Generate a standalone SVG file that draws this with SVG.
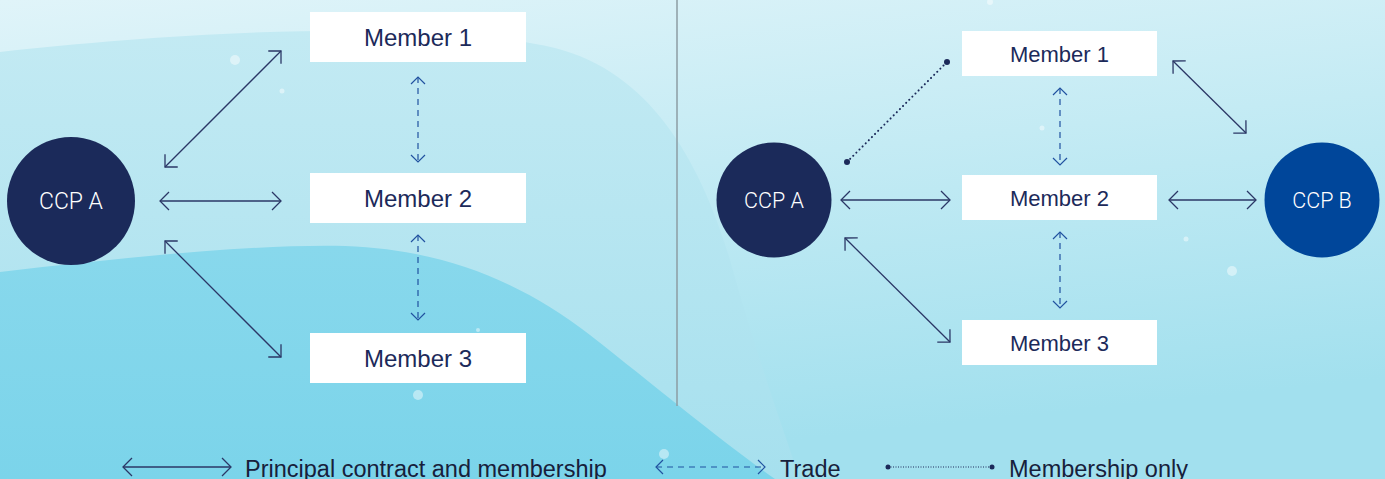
<svg xmlns="http://www.w3.org/2000/svg" width="1385" height="479" viewBox="0 0 1385 479">
  <defs>
    <linearGradient id="bgBase" x1="0" y1="0" x2="0.3" y2="1">
      <stop offset="0" stop-color="#e0f4f9"/>
      <stop offset="1" stop-color="#a2e0ee"/>
    </linearGradient>
    <linearGradient id="band" x1="0" y1="0" x2="0" y2="1">
      <stop offset="0" stop-color="#c3eaf3"/>
      <stop offset="1" stop-color="#a6e0ee"/>
    </linearGradient>
    <linearGradient id="wave" x1="0" y1="0" x2="0" y2="1">
      <stop offset="0" stop-color="#88d8ec"/>
      <stop offset="1" stop-color="#7bd4ea"/>
    </linearGradient>
    <marker id="ah" viewBox="0 0 11 20" refX="10" refY="10" markerWidth="11" markerHeight="20" markerUnits="userSpaceOnUse" orient="auto-start-reverse">
      <path d="M1,1 L10,10 L1,19" fill="none" stroke="#2b3766" stroke-width="1.3"/>
    </marker>
    <marker id="th" viewBox="0 0 9 16" refX="8" refY="8" markerWidth="9" markerHeight="16" markerUnits="userSpaceOnUse" orient="auto-start-reverse">
      <path d="M1,1 L8,8 L1,15" fill="none" stroke="#2152a0" stroke-width="1.2"/>
    </marker>
  </defs>
  <style>
    .box { fill: #ffffff; }
    .mtxtL { font-family: "Liberation Sans", Arial, sans-serif; font-size: 24px; fill: #1c2a5a; text-anchor: middle; }
    .mtxtR { font-family: "Liberation Sans", Arial, sans-serif; font-size: 22px; fill: #1c2a5a; text-anchor: middle; }
    .ccp { font-family: Roboto, "Liberation Sans", sans-serif; font-weight: 300; fill: #ffffff; text-anchor: middle; }
    .prin { fill: none; stroke: #2b3766; stroke-width: 1.3; marker-start: url(#ah); marker-end: url(#ah); }
    .trade { fill: none; stroke: #2152a0; stroke-width: 1.2; stroke-dasharray: 6 5; marker-start: url(#th); marker-end: url(#th); }
    .memb { fill: none; stroke: #1c2a5a; stroke-width: 2; stroke-linecap: round; stroke-dasharray: 0.1 4.3; }
    .leg { font-family: "Liberation Sans", Arial, sans-serif; font-size: 23.5px; fill: #17203b; }
    .bub { fill: #ffffff; opacity: 0.45; }
  </style>

  <!-- background -->
  <g id="background">
    <rect x="0" y="0" width="1385" height="479" fill="url(#bgBase)"/>
    <path d="M0,52 C180,32 430,18 555,48 C650,72 700,160 730,260 C755,350 780,420 800,479 L0,479 Z" fill="url(#band)"/>
    <path d="M0,272 C120,258 250,244 345,246 C450,250 525,285 590,335 C660,390 720,440 775,479 L0,479 Z" fill="url(#wave)"/>
    <circle class="bub" cx="235" cy="60" r="5"/>
    <circle class="bub" cx="282" cy="91" r="2.5"/>
    <circle class="bub" cx="418" cy="395" r="5"/>
    <circle class="bub" cx="478" cy="330" r="2"/>
    <circle class="bub" cx="664" cy="454" r="5"/>
    <circle class="bub" cx="1042" cy="128" r="2.5"/>
    <circle class="bub" cx="1186" cy="239" r="2.5"/>
    <circle class="bub" cx="1232" cy="271" r="5"/>
    <circle class="bub" cx="990" cy="2" r="3"/>
  </g>

  <line id="divider" x1="677" y1="0" x2="677" y2="406" stroke="#8c9ca3" stroke-width="1.5"/>

  <!-- connectors -->
  <g id="connectors">
    <!-- left panel -->
    <line class="prin" x1="165" y1="167" x2="281" y2="51"/>
    <line class="prin" x1="160" y1="201" x2="281" y2="201"/>
    <line class="prin" x1="165" y1="241" x2="281" y2="357"/>
    <line class="trade" x1="418" y1="77" x2="418" y2="162"/>
    <line class="trade" x1="418" y1="235" x2="418" y2="320"/>
    <!-- right panel -->
    <line class="memb" x1="847" y1="162" x2="947" y2="62"/>
    <circle cx="847" cy="162" r="3" fill="#1c2a5a"/>
    <circle cx="947" cy="62" r="3" fill="#1c2a5a"/>
    <line class="prin" x1="841" y1="200" x2="950" y2="200"/>
    <line class="prin" x1="845" y1="238" x2="950" y2="342"/>
    <line class="prin" x1="1173" y1="61" x2="1246" y2="133"/>
    <line class="prin" x1="1169" y1="200" x2="1256" y2="200"/>
    <line class="trade" x1="1060" y1="88" x2="1060" y2="165"/>
    <line class="trade" x1="1060" y1="232" x2="1060" y2="308"/>
  </g>

  <!-- left panel nodes -->
  <g id="left-ccpa">
    <circle cx="71" cy="201" r="64" fill="#1b2a5a"/>
    <text class="ccp" x="71" y="209" font-size="23">CCP A</text>
  </g>
  <g id="left-member1">
    <rect class="box" x="310" y="12" width="216" height="50"/>
    <text class="mtxtL" x="418" y="46">Member 1</text>
  </g>
  <g id="left-member2">
    <rect class="box" x="310" y="173" width="216" height="50"/>
    <text class="mtxtL" x="418" y="207">Member 2</text>
  </g>
  <g id="left-member3">
    <rect class="box" x="310" y="333" width="216" height="50"/>
    <text class="mtxtL" x="418" y="367">Member 3</text>
  </g>

  <!-- right panel nodes -->
  <g id="right-ccpa">
    <circle cx="774" cy="200" r="57.5" fill="#1b2a5a"/>
    <text class="ccp" x="774" y="207.5" font-size="21.5">CCP A</text>
  </g>
  <g id="right-ccpb">
    <circle cx="1322" cy="200" r="57.5" fill="#00469a"/>
    <text class="ccp" x="1322" y="207.5" font-size="21.5">CCP B</text>
  </g>
  <g id="right-member1">
    <rect class="box" x="962" y="31" width="195" height="45"/>
    <text class="mtxtR" x="1059.5" y="61.5">Member 1</text>
  </g>
  <g id="right-member2">
    <rect class="box" x="962" y="175" width="195" height="45"/>
    <text class="mtxtR" x="1059.5" y="205.5">Member 2</text>
  </g>
  <g id="right-member3">
    <rect class="box" x="962" y="320" width="195" height="45"/>
    <text class="mtxtR" x="1059.5" y="350.5">Member 3</text>
  </g>

  <!-- legend -->
  <g id="legend">
    <line class="prin" x1="123" y1="467" x2="231" y2="467"/>
    <text class="leg" x="245" y="476.5">Principal contract and membership</text>
    <line class="trade" x1="656" y1="467" x2="765" y2="467"/>
    <text class="leg" x="780" y="476.5">Trade</text>
    <line x1="888" y1="467" x2="992" y2="467" stroke="#1c2a5a" stroke-width="1" stroke-dasharray="1 1.5"/>
    <circle cx="888" cy="467" r="2.5" fill="#1c2a5a"/>
    <circle cx="992" cy="467" r="2.5" fill="#1c2a5a"/>
    <text class="leg" x="1009" y="476.5">Membership only</text>
  </g>
</svg>
